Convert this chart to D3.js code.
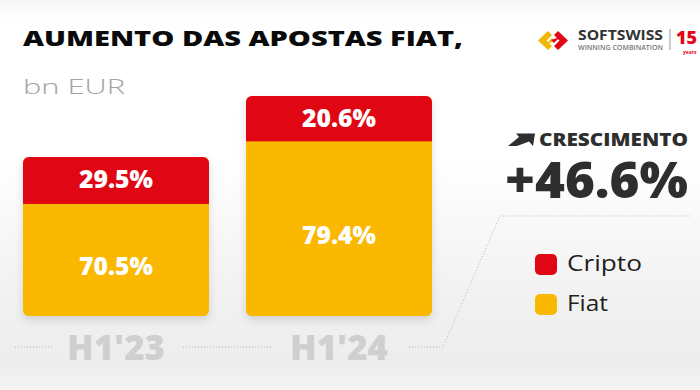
<!DOCTYPE html>
<html>
<head>
<meta charset="utf-8">
<script src="https://cdn.jsdelivr.net/npm/d3@7"></script>
<style>
  html, body { margin: 0; padding: 0; background: #fff; }
  svg { display: block; }
</style>
</head>
<body>
<svg id="chart" width="700" height="390"></svg>
<script>
// ---- data ----
const categories = ["H1'23", "H1'24"];
const criptoShare = [29.5, 20.6];
const fiatShare = [70.5, 79.4];
const barIndex = [100, 138.4];          // relative bar heights as drawn
const seriesNames = ["Cripto", "Fiat"];
const growthTitle = "CRESCIMENTO";
const growthValue = "+46.6%";
const titleText = "AUMENTO DAS APOSTAS FIAT,";
const unitText = "bn EUR";

const RED = "#e10613", YELLOW = "#fab800";
const W = 700, H = 390;
const svg = d3.select("#chart");
const defs = svg.append("defs");

// background
const bg = defs.append("linearGradient").attr("id", "bg").attr("x1", 0).attr("x2", 0).attr("y1", 0).attr("y2", 1);
[[0, "#f6f7f8"], [0.04, "#fdfdfd"], [0.08, "#ffffff"], [0.4, "#ffffff"], [0.8, "#f0f0f0"], [0.93, "#ededed"], [1, "#f4f4f4"]]
  .forEach(([o, c]) => bg.append("stop").attr("offset", o).attr("stop-color", c));
svg.append("rect").attr("width", W).attr("height", H).attr("fill", "url(#bg)");

const shadow = defs.append("filter").attr("id", "sh").attr("x", "-10%").attr("y", "-10%").attr("width", "120%").attr("height", "130%");
shadow.append("feDropShadow").attr("dx", 0).attr("dy", 4).attr("stdDeviation", 4).attr("flood-color", "#000").attr("flood-opacity", 0.13);

const BOLD = "'Open Sans', 'DejaVu Sans', sans-serif";

// title
svg.append("text").attr("x", 23).attr("y", 46)
  .attr("font-family", BOLD).attr("font-weight", 800).attr("font-size", 21)
  .attr("textLength", 440).attr("lengthAdjust", "spacingAndGlyphs")
  .attr("fill", "#0a0a0a").text(titleText);
svg.append("text").attr("x", 23).attr("y", 94)
  .attr("font-family", "'Open Sans', sans-serif").attr("font-weight", 300).attr("font-size", 20)
  .attr("textLength", 102).attr("lengthAdjust", "spacingAndGlyphs")
  .attr("fill", "#a3a3a3").text(unitText);

// scales
const x = d3.scaleBand().domain(categories).range([23, 432]).paddingInner(37 / 223).paddingOuter(0);
const y = d3.scaleLinear().domain([0, d3.max(barIndex)]).range([316, 96]);

const rows = categories.map((c, i) => ({
  cat: c,
  fiat: barIndex[i] * fiatShare[i] / 100,
  cripto: barIndex[i] * criptoShare[i] / 100,
  fiatShare: fiatShare[i], criptoShare: criptoShare[i]
}));
const stack = d3.stack().keys(["fiat", "cripto"])(rows);

// clip paths for rounded bars
rows.forEach((r, i) => {
  defs.append("clipPath").attr("id", "clip" + i)
    .append("rect").attr("x", x(r.cat)).attr("width", x.bandwidth())
    .attr("y", y(r.fiat + r.cripto)).attr("height", y(0) - y(r.fiat + r.cripto)).attr("rx", 6);
});

// shadows
svg.append("g").selectAll("rect").data(rows).join("rect")
  .attr("x", d => x(d.cat)).attr("width", x.bandwidth())
  .attr("y", d => y(d.fiat + d.cripto)).attr("height", d => y(0) - y(d.fiat + d.cripto))
  .attr("rx", 6).attr("fill", YELLOW).attr("filter", "url(#sh)");

const colors = { fiat: YELLOW, cripto: RED };
stack.forEach(layer => {
  svg.append("g").selectAll("rect").data(layer).join("rect")
    .attr("clip-path", (d, i) => `url(#clip${i})`)
    .attr("x", d => x(d.data.cat)).attr("width", x.bandwidth())
    .attr("y", d => y(d[1])).attr("height", d => y(d[0]) - y(d[1]))
    .attr("fill", colors[layer.key]);
});

// segment labels
const fmt = v => v.toFixed(1) + "%";
svg.append("g").selectAll("text").data(stack[1]).join("text")
  .attr("x", d => x(d.data.cat) + x.bandwidth() / 2)
  .attr("y", d => (y(d[0]) + y(d[1])) / 2 + 8)
  .attr("text-anchor", "middle").attr("font-family", BOLD).attr("font-weight", 800)
  .attr("font-size", 24).attr("textLength", 74).attr("lengthAdjust", "spacingAndGlyphs")
  .attr("fill", "#fff").text(d => fmt(d.data.criptoShare));
svg.append("g").selectAll("text").data(stack[0]).join("text")
  .attr("x", d => x(d.data.cat) + x.bandwidth() / 2)
  .attr("y", d => (y(d[0]) + y(d[1])) / 2 + 15)
  .attr("text-anchor", "middle").attr("font-family", BOLD).attr("font-weight", 800)
  .attr("font-size", 24).attr("textLength", 74).attr("lengthAdjust", "spacingAndGlyphs")
  .attr("fill", "#fff").text(d => fmt(d.data.fiatShare));

// category axis labels
svg.append("g").selectAll("text").data(categories).join("text")
  .attr("x", d => x(d) + x.bandwidth() / 2).attr("y", 360)
  .attr("text-anchor", "middle").attr("font-family", BOLD).attr("font-weight", 800)
  .attr("font-size", 36).attr("textLength", 98).attr("lengthAdjust", "spacingAndGlyphs")
  .attr("fill", "#cfcfcf").text(d => d);

// dotted guide lines
const c0 = x(categories[0]) + x.bandwidth() / 2, c1 = x(categories[1]) + x.bandwidth() / 2;
const dotted = [
  [[15, 347], [c0 - 64, 347]],
  [[c0 + 67, 347], [c1 - 68, 347]],
  [[c1 + 70, 347], [443, 347], [500, 216], [690, 216]]
];
svg.append("g").selectAll("path").data(dotted).join("path")
  .attr("d", d3.line()).attr("fill", "none")
  .attr("stroke", "#b5b5b5").attr("stroke-width", 1).attr("stroke-dasharray", "1,2");

// growth block
svg.append("path")
  .attr("d", "M508,146 L519,137 L516,133.5 L535,133.5 L533,146 L529,141.5 L517,146 Z")
  .attr("fill", "#2e2e2e");
svg.append("text").attr("x", 539).attr("y", 146)
  .attr("font-family", BOLD).attr("font-weight", 800).attr("font-size", 17)
  .attr("textLength", 149).attr("lengthAdjust", "spacingAndGlyphs")
  .attr("fill", "#2e2e2e").text(growthTitle);
svg.append("text").attr("x", 505).attr("y", 198)
  .attr("font-family", BOLD).attr("font-weight", 800).attr("font-size", 49)
  .attr("textLength", 183).attr("lengthAdjust", "spacingAndGlyphs")
  .attr("fill", "#2e2e2e").text(growthValue);

// legend
const legendColors = [RED, YELLOW];
const lg = svg.append("g").selectAll("g").data(seriesNames).join("g")
  .attr("transform", (d, i) => `translate(535,${254 + i * 40})`);
lg.append("rect").attr("width", 22).attr("height", 21).attr("rx", 5)
  .attr("fill", (d, i) => legendColors[i]);
lg.append("text").attr("x", 32).attr("y", 17)
  .attr("font-family", "'Open Sans', sans-serif").attr("font-weight", 400).attr("font-size", 22)
  .attr("textLength", (d, i) => [75, 41][i]).attr("lengthAdjust", "spacingAndGlyphs")
  .attr("fill", "#1e1e1e").text(d => d);

// logo
const logo = svg.append("g");
logo.append("path").attr("d", "M548,31 L538,40.5 L548,50 L552,46 L546.5,40.5 L552,35 Z").attr("fill", "#f2b705");
logo.append("path").attr("d", "M546,44 L552,38 L555,41 Z").attr("fill", "#f2b705");
logo.append("path").attr("d", "M558,31 L568,40.5 L558,50 L554,46 L559.5,40.5 L554,35 Z").attr("fill", "#e30613");
logo.append("path").attr("d", "M560,37 L554,43 L551,40 Z").attr("fill", "#e30613");
logo.append("text").attr("x", 578).attr("y", 40)
  .attr("font-family", BOLD).attr("font-weight", 700).attr("font-size", 15)
  .attr("textLength", 85).attr("lengthAdjust", "spacingAndGlyphs")
  .attr("fill", "#333").text("SOFTSWISS");
logo.append("text").attr("x", 578).attr("y", 49.5)
  .attr("font-family", BOLD).attr("font-weight", 600).attr("font-size", 7)
  .attr("textLength", 85).attr("lengthAdjust", "spacingAndGlyphs")
  .attr("fill", "#777").text("WINNING COMBINATION");
logo.append("line").attr("x1", 670).attr("x2", 670).attr("y1", 29).attr("y2", 50)
  .attr("stroke", "#999").attr("stroke-width", 1);
logo.append("text").attr("x", 676).attr("y", 44)
  .attr("font-family", BOLD).attr("font-weight", 800).attr("font-size", 18)
  .attr("textLength", 21).attr("lengthAdjust", "spacingAndGlyphs")
  .attr("fill", "#e30613").text("15");
logo.append("text").attr("x", 683).attr("y", 54)
  .attr("font-family", BOLD).attr("font-weight", 700).attr("font-size", 5)
  .attr("fill", "#e30613").text("years");
</script>
</body>
</html>
